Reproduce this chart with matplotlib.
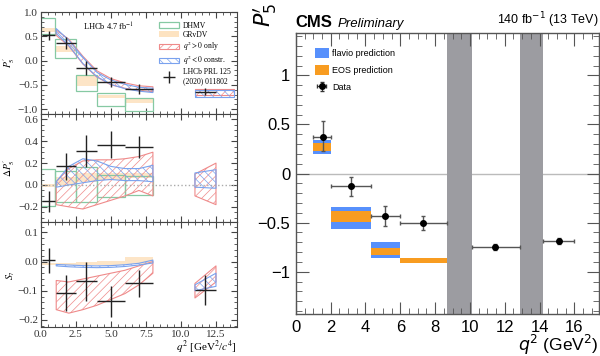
import numpy as np
import matplotlib
matplotlib.use("Agg")
import matplotlib.pyplot as plt
from matplotlib.ticker import MultipleLocator
from matplotlib.patches import Patch
from matplotlib.lines import Line2D

# ---------------- left: LHCb-style three panels ----------------
bin_lo = [0.1, 1.1, 2.5, 4.0, 6.0, 11.0]
bin_hi = [0.98, 2.5, 4.0, 6.0, 8.0, 12.5]
bin_x = [0.55, 1.8, 3.25, 5.0, 7.0, 11.75]

p5_val = [0.52, 0.36, -0.15, -0.44, -0.58, -0.64]
p5_err = [0.10, 0.12, 0.14, 0.11, 0.10, 0.08]
dp5_val = [-0.15, 0.17, 0.31, 0.37, 0.35]
dp5_err = [0.095, 0.12, 0.15, 0.12, 0.10]
s7_val = [0.005, -0.107, -0.068, -0.137, -0.075, -0.097]
s7_err = [0.043, 0.062, 0.067, 0.053, 0.047, 0.052]

# DHMV / GRvDV binned predictions (first five bins)
th_lo = [0.0, 1.0, 2.5, 4.0, 6.0]
th_hi = [1.0, 2.5, 4.0, 6.0, 8.0]
dhmv_p5 = [(0.54, 0.88), (0.06, 0.44), (-0.62, -0.29), (-0.94, -0.67), (-1.04, -0.78)]
grvdv_p5 = [(0.58, 0.68), (0.17, 0.31), (-0.52, -0.30), (-0.78, -0.70), (-0.88, -0.80)]
dhmv_dp5 = [(-0.19, 0.15), (-0.16, 0.13), (-0.16, 0.16), (-0.11, 0.09), (-0.09, 0.08)]
grvdv_dp5 = [(-0.02, 0.01), (0.0, 0.07), (0.03, 0.11), (0.05, 0.11), (0.06, 0.11)]
grvdv_s7 = [(-0.012, -0.006), (-0.012, -0.006), (-0.012, 0.0), (-0.012, 0.002), (-0.01, 0.015)]

# fit bands (q2 > 0 only = red, q2 < 0 constrained = blue)
band_q = [1.1, 2.0, 3.0, 4.0, 5.0, 6.0, 7.0, 8.0]
red_p5_lo = [0.52, 0.30, -0.07, -0.34, -0.50, -0.57, -0.62, -0.64]
red_p5_hi = [0.63, 0.44, 0.09, -0.21, -0.37, -0.46, -0.52, -0.54]
blue_p5_lo = [0.56, 0.31, -0.06, -0.33, -0.49, -0.58, -0.63, -0.66]
blue_p5_hi = [0.66, 0.42, 0.07, -0.24, -0.40, -0.49, -0.55, -0.57]
red_dp5_lo = [-0.18, -0.20, -0.22, -0.18, -0.14, -0.10, -0.05, -0.10]
red_dp5_hi = [0.03, 0.15, 0.22, 0.23, 0.23, 0.24, 0.26, 0.30]
blue_dp5_lo = [-0.02, 0.00, 0.02, 0.04, 0.05, 0.04, 0.04, 0.03]
blue_dp5_hi = [0.03, 0.17, 0.24, 0.22, 0.17, 0.15, 0.15, 0.18]
red_s7_lo = [-0.165, -0.177, -0.165, -0.15, -0.13, -0.11, -0.08, -0.04]
red_s7_hi = [-0.065, -0.07, -0.06, -0.05, -0.04, -0.03, -0.015, 0.0]
blue_s7_lo = [-0.015, -0.018, -0.02, -0.021, -0.02, -0.017, -0.012, -0.005]
blue_s7_hi = [-0.01, -0.012, -0.014, -0.015, -0.014, -0.011, -0.006, 0.005]

hq = [11.0, 12.5]
hq_p5 = [11.0, 13.8]
red_p5_high = ([-0.72, -0.72], [-0.58, -0.58])
blue_p5_high = ([-0.76, -0.76], [-0.61, -0.61])
red_dp5_high = ([-0.10, -0.18], [0.10, 0.20])
blue_dp5_high = ([-0.02, -0.03], [0.11, 0.14])
red_s7_high = ([-0.125, -0.07], [-0.075, -0.015])
blue_s7_high = ([-0.10, -0.085], [-0.08, -0.04])

# ---------------- right: CMS ----------------
cms_lo = [1.0, 2.0, 4.3, 6.0, 10.09, 14.18]
cms_hi = [2.0, 4.3, 6.0, 8.68, 12.86, 16.0]
cms_x = [1.55, 3.15, 5.15, 7.3, 11.45, 15.1]
cms_val = [0.37, -0.13, -0.43, -0.50, -0.75, -0.69]
cms_elo = [0.14, 0.10, 0.10, 0.07, 0.03, 0.03]
cms_ehi = [0.16, 0.09, 0.10, 0.07, 0.03, 0.03]
pred_lo = [1.0, 2.0, 4.3, 6.0]
pred_hi = [2.0, 4.3, 6.0, 8.68]
flavio = [(0.20, 0.34), (-0.56, -0.34), (-0.86, -0.70), (-0.90, -0.87)]
eos = [(0.23, 0.31), (-0.49, -0.38), (-0.83, -0.76), (-0.91, -0.86)]
vetoes = [(8.68, 10.09), (12.86, 14.18)]

GREEN = "#86c9a3"
ORANGE_L = "#fde3c1"
RED = "#ef8a8a"
BLUE = "#7aa2ee"

plt.rcParams["hatch.linewidth"] = 0.5
serif = "Liberation Serif"

fig = plt.figure(figsize=(6.0, 3.56), dpi=100)
axL = [fig.add_axes([0.068, 0.680, 0.327, 0.286]),
       fig.add_axes([0.068, 0.376, 0.327, 0.304]),
       fig.add_axes([0.068, 0.081, 0.327, 0.295])]


def boxes(ax, vals, outline):
    for lo, hi, (a, b) in zip(th_lo, th_hi, vals):
        if outline:
            ax.add_patch(plt.Rectangle((lo, a), hi - lo, b - a, facecolor="none",
                                       edgecolor=GREEN, lw=0.9, zorder=2))
        else:
            ax.add_patch(plt.Rectangle((lo, a), hi - lo, b - a, facecolor=ORANGE_L,
                                       edgecolor="none", alpha=0.9, zorder=1))


def band(ax, q, lo, hi, col, hatch):
    ax.fill_between(q, lo, hi, facecolor="none", edgecolor=col, hatch=hatch,
                    lw=0.8, zorder=3)


def data(ax, n, vals, errs):
    x = np.array(bin_x[:n])
    xe = [x - np.array(bin_lo[:n]), np.array(bin_hi[:n]) - x]
    ax.errorbar(x, vals, yerr=errs, xerr=xe, fmt="none", ecolor="#222222",
                elinewidth=1.0, zorder=5)


# P5'
ax = axL[0]
boxes(ax, grvdv_p5, False)
boxes(ax, dhmv_p5, True)
band(ax, band_q, red_p5_lo, red_p5_hi, RED, "////")
band(ax, band_q, blue_p5_lo, blue_p5_hi, BLUE, "\\\\\\\\")
band(ax, hq_p5, *red_p5_high, RED, "////")
band(ax, hq_p5, *blue_p5_high, BLUE, "\\\\\\\\")
data(ax, 6, p5_val, p5_err)
ax.set_ylim(-1.1, 1.0)
ax.yaxis.set_major_locator(MultipleLocator(0.5))
ax.yaxis.set_minor_locator(MultipleLocator(0.1))
ax.set_ylabel(r"$P_5'$", fontsize=7, math_fontfamily="stix", labelpad=1)
ax.text(0.215, 0.82, r"LHCb 4.7 fb$^{-1}$", transform=ax.transAxes, fontsize=6,
        family=serif, math_fontfamily="stix")
handles = [Patch(facecolor="none", edgecolor=GREEN, lw=0.9),
           Patch(facecolor=ORANGE_L, edgecolor="none"),
           Patch(facecolor="none", edgecolor=RED, hatch="////", lw=0.8),
           Patch(facecolor="none", edgecolor=BLUE, hatch="\\\\\\\\", lw=0.8),
           Line2D([], [], color="#222222", marker="+", markersize=8, ls="none")]
labels = ["DHMV", "GRvDV", r"$q^2 > 0$ only", r"$q^2 < 0$ constr.",
          "LHCb PRL 125\n(2020) 011802"]
leg = ax.legend(handles, labels, loc="upper left", bbox_to_anchor=(0.58, 0.95),
                frameon=False, prop={"family": serif, "size": 5.5},
                handlelength=2.6, handleheight=0.75, labelspacing=0.12,
                borderaxespad=0.2, handletextpad=0.5)
for t in leg.get_texts():
    t.set_math_fontfamily("stix")

# Delta P5'
ax = axL[1]
boxes(ax, grvdv_dp5, False)
boxes(ax, dhmv_dp5, True)
band(ax, band_q, red_dp5_lo, red_dp5_hi, RED, "////")
band(ax, band_q, blue_dp5_lo, blue_dp5_hi, BLUE, "\\\\\\\\")
band(ax, hq, *red_dp5_high, RED, "////")
band(ax, hq, *blue_dp5_high, BLUE, "\\\\\\\\")
ax.axhline(0, color="#aaaaaa", ls=":", lw=1.0, zorder=4)
data(ax, 5, dp5_val, dp5_err)
ax.set_ylim(-0.34, 0.65)
ax.yaxis.set_major_locator(MultipleLocator(0.2))
ax.yaxis.set_minor_locator(MultipleLocator(0.05))
ax.set_ylabel(r"$\Delta P_5'$", fontsize=7, math_fontfamily="stix", labelpad=1)

# S7
ax = axL[2]
boxes(ax, grvdv_s7, False)
band(ax, band_q, red_s7_lo, red_s7_hi, RED, "////")
band(ax, band_q, blue_s7_lo, blue_s7_hi, BLUE, "\\\\\\\\")
band(ax, hq, *red_s7_high, RED, "////")
band(ax, hq, *blue_s7_high, BLUE, "\\\\\\\\")
data(ax, 6, s7_val, s7_err)
ax.set_ylim(-0.225, 0.135)
ax.yaxis.set_major_locator(MultipleLocator(0.1))
ax.yaxis.set_minor_locator(MultipleLocator(0.02))
ax.set_ylabel(r"$S_7$", fontsize=7, math_fontfamily="stix", labelpad=1)
ax.set_xlabel(r"$q^2$ [GeV$^2$/$c^4$]", fontsize=8, family=serif,
              math_fontfamily="stix", loc="right", labelpad=0)

for i, ax in enumerate(axL):
    ax.set_xlim(0, 14)
    ax.xaxis.set_major_locator(MultipleLocator(2.5))
    ax.xaxis.set_minor_locator(MultipleLocator(0.5))
    ax.tick_params(which="both", direction="in", top=True, right=True,
                   labelsize=8, color="#444444", labelcolor="#333333", pad=2)
    ax.tick_params(which="major", length=4)
    ax.tick_params(which="minor", length=2)
    for s in ax.spines.values():
        s.set_color("#444444")
        s.set_linewidth(0.8)
    for lab in ax.get_xticklabels() + ax.get_yticklabels():
        lab.set_family(serif)
    if i < 2:
        ax.tick_params(labelbottom=False)

# ---------------- CMS panel ----------------
axR = fig.add_axes([0.493, 0.118, 0.505, 0.789])
for a, b in vetoes:
    axR.axvspan(a, b, color="#9c9ca1", lw=0, zorder=1)
axR.axhline(0, color="#bbbbbb", lw=1.0, zorder=0)
for lo, hi, (a, b) in zip(pred_lo, pred_hi, flavio):
    axR.add_patch(plt.Rectangle((lo, a), hi - lo, b - a, facecolor="#5790fc",
                                edgecolor="none", zorder=2))
for lo, hi, (a, b) in zip(pred_lo, pred_hi, eos):
    axR.add_patch(plt.Rectangle((lo, a), hi - lo, b - a, facecolor="#f89c20",
                                edgecolor="none", zorder=3))
cx = np.array(cms_x)
axR.errorbar(cx, cms_val, yerr=[cms_elo, cms_ehi],
             xerr=[cx - np.array(cms_lo), np.array(cms_hi) - cx],
             fmt="o", color="black", ecolor="#555555", ms=4, elinewidth=1.0,
             capsize=1.5, capthick=1.0, zorder=5)
axR.set_xlim(0, 17.4)
axR.set_ylim(-1.43, 1.43)
axR.xaxis.set_major_locator(MultipleLocator(2))
axR.xaxis.set_minor_locator(MultipleLocator(0.5))
axR.yaxis.set_minor_locator(MultipleLocator(0.1))
axR.set_yticks([-1, -0.5, 0, 0.5, 1])
axR.set_yticklabels(["\u22121", "\u22120.5", "0", "0.5", "1"])
axR.tick_params(which="both", direction="in", top=True, right=True,
                labelsize=12, color="#555555", pad=4)
axR.tick_params(which="major", length=9)
axR.tick_params(which="minor", length=4.5)
for s in axR.spines.values():
    s.set_color("#555555")
    s.set_linewidth(1.0)
for lab in axR.get_xticklabels() + axR.get_yticklabels():
    lab.set_family("Liberation Sans")

axR.text(0.0, 1.012, "CMS", transform=axR.transAxes, fontsize=12,
         fontweight="bold", family="Liberation Sans", va="bottom")
axR.text(0.138, 1.012, "Preliminary", transform=axR.transAxes, fontsize=9.5,
         style="italic", family="Liberation Sans", va="bottom")
axR.text(1.0, 1.012, r"140 fb$^{-1}$ (13 TeV)", transform=axR.transAxes,
         fontsize=9, family="Liberation Sans", ha="right", va="bottom",
         math_fontfamily="dejavusans")
fig.text(265 / 600, 1 - 3 / 356, r"$P_5'$", fontsize=16, rotation=90,
         ha="center", va="top", math_fontfamily="dejavusans")
axR.set_xlabel(r"$q^2$ (GeV$^2$)", fontsize=12.5, loc="right", labelpad=-1,
               family="Liberation Sans", math_fontfamily="dejavusans")

# legend entries
hR = [Patch(facecolor="#5790fc"), Patch(facecolor="#f89c20"),
      axR.errorbar([np.nan], [np.nan], yerr=[0.1], xerr=[0.3], fmt="o",
                   color="black", ecolor="#333333", ms=4, elinewidth=0.8,
                   capsize=1.5)]
axR.legend(hR, ["flavio prediction", "EOS prediction", "Data"],
           loc="upper left", bbox_to_anchor=(0.035, 0.975), frameon=False,
           prop={"family": "Liberation Sans", "size": 6.5},
           handlelength=1.6, handleheight=1.25, labelspacing=0.8,
           handletextpad=0.35)

fig.savefig("out.png", dpi=100)
